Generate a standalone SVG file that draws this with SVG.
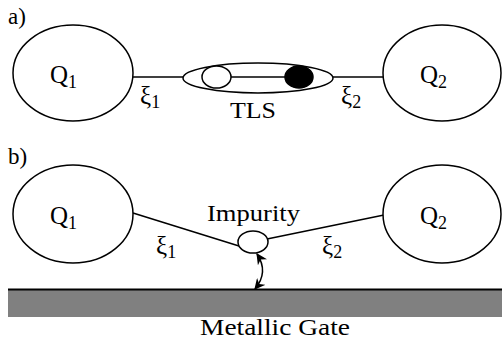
<svg xmlns="http://www.w3.org/2000/svg" width="502" height="339" viewBox="0 0 502 339">
<style>
.ln{stroke:#000;stroke-width:1.5;fill:none}
.nd{stroke:#000;stroke-width:1.5;fill:#fff}
text{font-family:"Liberation Serif","Times New Roman","DejaVu Serif",serif;fill:#000}
</style>
<defs>
<marker id="ah" viewBox="0 0 10 10" refX="9" refY="5" markerWidth="11" markerHeight="11" orient="auto-start-reverse" markerUnits="userSpaceOnUse">
<path d="M0,0 L10,5 L0,10 L3,5 z" fill="#000"/>
</marker>
</defs>
<rect width="502" height="339" fill="#fff"/>
<text x="8" y="24" font-size="23">a)</text>
<text x="8" y="164" font-size="23">b)</text>
<g id="connectors">
<line class="ln" x1="133" y1="77" x2="183" y2="77"/>
<line class="ln" x1="333" y1="77" x2="383" y2="77"/>
<line class="ln" x1="133" y1="213" x2="239" y2="246"/>
<line class="ln" x1="267" y1="239" x2="384" y2="215"/>
<path class="ln" d="M257,254 Q269,272 255,289" marker-start="url(#ah)" marker-end="url(#ah)"/>
</g>
<g id="a-Q1">
<ellipse class="nd" cx="73" cy="73" rx="60" ry="48"/>
<text x="50" y="83" font-size="25">Q<tspan font-size="18" dy="5">1</tspan></text>
</g>
<g id="a-Q2">
<ellipse class="nd" cx="442" cy="73" rx="59" ry="48"/>
<text x="420" y="83" font-size="25">Q<tspan font-size="18" dy="5">2</tspan></text>
</g>
<g id="a-TLS">
<ellipse class="ln" cx="258" cy="78" rx="75" ry="15"/>
<line class="ln" x1="231" y1="77" x2="285" y2="77"/>
<ellipse class="nd" cx="216.5" cy="77" rx="14.5" ry="11"/>
<ellipse cx="299" cy="77" rx="14" ry="11" fill="#000" stroke="#000" stroke-width="1.5"/>
<text x="230" y="118" font-size="24" textLength="46" lengthAdjust="spacingAndGlyphs">TLS</text>
</g>
<text x="140" y="104" font-size="25">ξ<tspan font-size="18" dy="4">1</tspan></text>
<text x="341" y="104" font-size="25">ξ<tspan font-size="18" dy="4">2</tspan></text>
<g id="b-Q1">
<ellipse class="nd" cx="73" cy="214" rx="60" ry="49"/>
<text x="50" y="224" font-size="25">Q<tspan font-size="18" dy="5">1</tspan></text>
</g>
<g id="b-Q2">
<ellipse class="nd" cx="442" cy="214" rx="59" ry="49"/>
<text x="420" y="224" font-size="25">Q<tspan font-size="18" dy="5">2</tspan></text>
</g>
<g id="b-Impurity">
<ellipse class="nd" cx="253" cy="242" rx="15" ry="11"/>
<text x="207" y="221" font-size="23" textLength="93" lengthAdjust="spacingAndGlyphs">Impurity</text>
</g>
<text x="156" y="254" font-size="25">ξ<tspan font-size="18" dy="4">1</tspan></text>
<text x="322" y="254" font-size="25">ξ<tspan font-size="18" dy="4">2</tspan></text>
<g id="gate">
<rect x="8" y="289" width="494" height="28" fill="#808080"/>
<line x1="8" y1="289.5" x2="502" y2="289.5" stroke="#000" stroke-width="2"/>
<text x="200" y="335" font-size="23" textLength="150" lengthAdjust="spacingAndGlyphs">Metallic Gate</text>
</g>
</svg>
